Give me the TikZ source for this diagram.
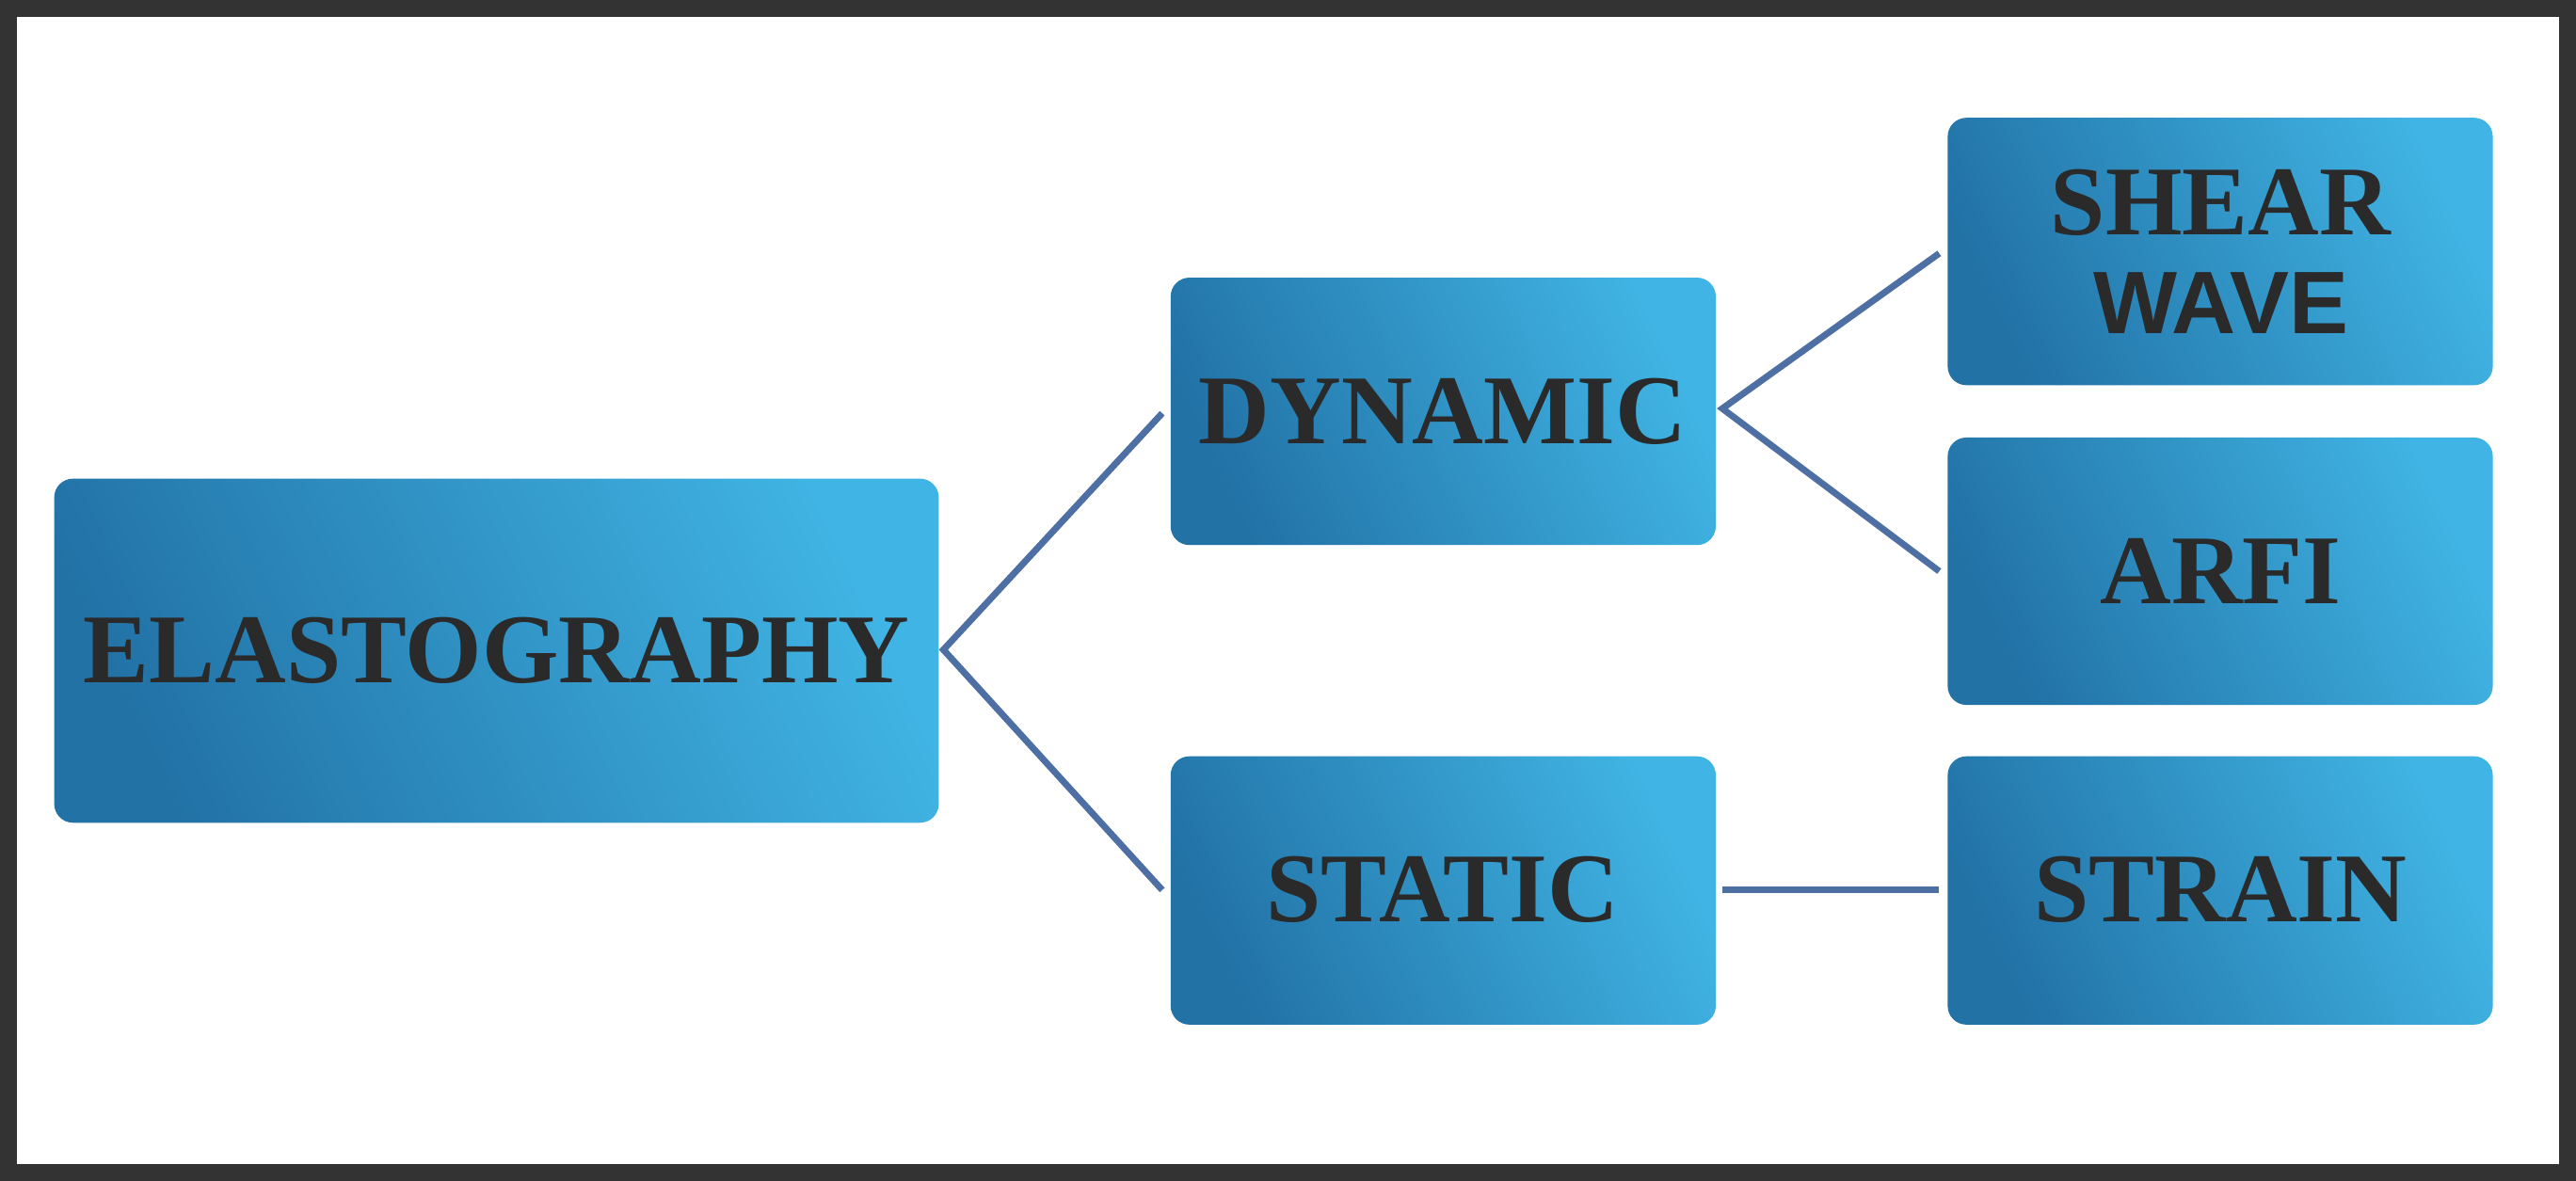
\documentclass[tikz,border=0pt]{standalone}
\usepackage{fontspec}
\setmainfont{Liberation Serif}
\newfontfamily\wsans{Liberation Sans}
\definecolor{boxA}{HTML}{2272A6}
\definecolor{boxB}{HTML}{2A9FD8}
\definecolor{boxC}{HTML}{40B4E4}
\definecolor{lineC}{HTML}{4E6FA3}
\definecolor{txt}{HTML}{2A2A2A}
\begin{document}
\begin{tikzpicture}[x=0.01cm,y=-0.01cm,
  box/.style={rounded corners=0.2cm, shading=axis, left color=boxA, right color=boxC, shading angle=-65+180, inner sep=0pt},
  lab/.style={text=txt, font=\bfseries\fontsize{30}{32}\selectfont, align=center},
  conn/.style={draw=lineC, line width=0.07cm}]
\fill[white] (0,0) rectangle (2737,1245);
\draw[line width=0.18cm, draw={black!80}] (0,0) rectangle (2737,1245);
\path[box] (49,503) rectangle (995,871);
\node[lab] (e) at (522,687) {ELASTOGRAPHY};
\path[box] (1243,288) rectangle (1826,574);
\node[lab] (d) at (1534,431) {DYNAMIC};
\path[box] (1243,800) rectangle (1826,1087);
\node[lab] (s) at (1534,943) {STATIC};
\path[box] (2074,117) rectangle (2657,403);
\node[lab] (sw) at (2366,260) {SHEAR\\[-2pt]{\wsans\fontsize{27}{30}\selectfont WAVE}};
\path[box] (2074,459) rectangle (2657,745);
\node[lab] (a) at (2366,602) {ARFI};
\path[box] (2074,800) rectangle (2657,1087);
\node[lab] (st) at (2366,943) {STRAIN};
\coordinate (e1) at (1000,686);
\coordinate (d0) at (1234,433);
\coordinate (s0) at (1234,943);
\coordinate (d1) at (1833,428);
\coordinate (sw0) at (2065,262);
\coordinate (a0) at (2065,602);
\coordinate (s1) at (1833,943);
\coordinate (st0) at (2065,943);
\draw[conn] (d0) -- (e1) -- (s0);
\draw[conn] (sw0) -- (d1) -- (a0);
\draw[conn] (s1) -- (st0);
\end{tikzpicture}
\end{document}
